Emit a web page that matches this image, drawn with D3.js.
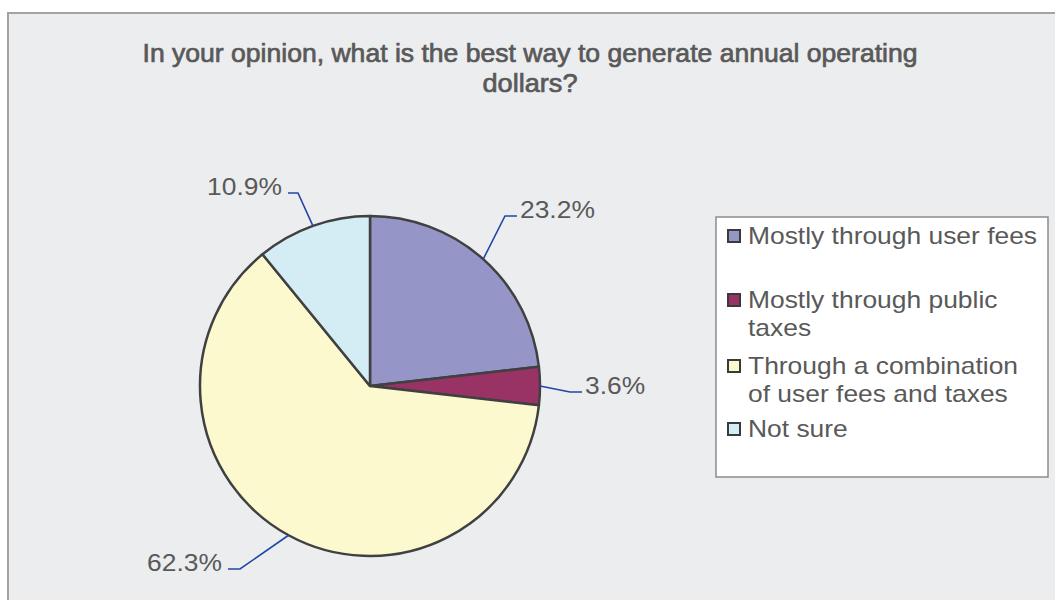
<!DOCTYPE html>
<html><head><meta charset="utf-8">
<script src="https://cdn.jsdelivr.net/npm/d3@7"></script>
<style>html,body{margin:0;padding:0;background:#fff;}svg{display:block;}</style>
</head><body><svg id="c" width="1055" height="600"></svg>
<script>
// ---- data ----
const categories = ["Mostly through user fees", "Mostly through public taxes", "Through a combination of user fees and taxes", "Not sure"];
const values = [23.2, 3.6, 62.3, 10.9];
const valueLabels = ["23.2%", "3.6%", "62.3%", "10.9%"];
const legendLines = [["Mostly through user fees"], ["Mostly through public", "taxes"], ["Through a combination", "of user fees and taxes"], ["Not sure"]];
const colors = ["#9595C8", "#993366", "#FCF9CF", "#D4EDF4"];
const titleLines = ["In your opinion, what is the best way to generate annual operating", "dollars?"];

// ---- layout ----
const W = 1055, H = 600;
const cx = 370, cy = 386, R = 170;
const stretch = 1.1; // horizontal text stretch seen in reference
const leaderLayout = [
  {ex: 505, ey: 216, hx: 517, anchor: "start"},
  {ex: 570, ey: 392, hx: 582, anchor: "start"},
  {ex: 240, ey: 569, hx: 228, anchor: "end"},
  {ex: 298, ey: 193, hx: 288, anchor: "end"}
];
const legendBox = {x: 716, y: 217, w: 332, h: 260};
const legendSwatchY = [230, 294, 360, 423];
const fontFam = "'Liberation Sans', Arial, sans-serif";

const svg = d3.select("#c");

function stretchText(sel) {
  sel.each(function () {
    const w = this.getComputedTextLength();
    d3.select(this).attr("textLength", w * stretch).attr("lengthAdjust", "spacingAndGlyphs");
  });
}

// chart area
svg.append("rect").attr("x", 8).attr("y", 13).attr("width", W + 10).attr("height", H + 10)
  .attr("fill", "#ECEDEF").attr("stroke", "#A3A3A3").attr("stroke-width", 2);

// title
const title = svg.append("text").attr("font-family", fontFam).attr("font-size", 26)
  .attr("fill", "#595959").attr("stroke", "#595959").attr("stroke-width", 0.7).attr("text-anchor", "middle");
title.append("tspan").attr("x", 530).attr("y", 62).attr("textLength", 775).attr("lengthAdjust", "spacingAndGlyphs").text(titleLines[0]);
title.append("tspan").attr("x", 530).attr("y", 92).attr("textLength", 95).attr("lengthAdjust", "spacingAndGlyphs").text(titleLines[1]);

// pie
const pie = d3.pie().sort(null).value(d => d)(values);
const arc = d3.arc().innerRadius(0).outerRadius(R);
const g = svg.append("g").attr("transform", `translate(${cx},${cy})`);
g.selectAll("path").data(pie).join("path")
  .attr("d", arc).attr("fill", (d, i) => colors[i])
  .attr("stroke", "#404040").attr("stroke-width", 2.5).attr("stroke-linejoin", "round");

// leaders and labels
pie.forEach((d, i) => {
  const a = (d.startAngle + d.endAngle) / 2;
  const px = cx + R * Math.sin(a), py = cy - R * Math.cos(a);
  const L = leaderLayout[i];
  svg.append("polyline").attr("points", `${px},${py} ${L.ex},${L.ey} ${L.hx},${L.ey}`)
    .attr("fill", "none").attr("stroke", "#2147A6").attr("stroke-width", 1.6);
  const tx = L.anchor === "start" ? L.hx + 3 : L.hx - 6;
  svg.append("text").attr("x", tx).attr("y", L.ey + 2).attr("text-anchor", L.anchor)
    .attr("font-family", fontFam).attr("font-size", 24).attr("fill", "#595959").text(valueLabels[i])
    .call(stretchText);
});

// legend
svg.append("rect").attr("x", legendBox.x).attr("y", legendBox.y).attr("width", legendBox.w).attr("height", legendBox.h)
  .attr("fill", "#fff").attr("stroke", "#8C8C8C").attr("stroke-width", 1.5);
categories.forEach((c, i) => {
  const sy = legendSwatchY[i];
  svg.append("rect").attr("x", 728).attr("y", sy).attr("width", 12).attr("height", 12)
    .attr("fill", colors[i]).attr("stroke", "#3a3a3a").attr("stroke-width", 2);
  const t = svg.append("text").attr("font-family", fontFam).attr("font-size", 24).attr("fill", "#595959");
  legendLines[i].forEach((ln, j) => {
    t.append("tspan").attr("x", 748).attr("y", sy + 14 + j * 28).text(ln).call(stretchText);
  });
});
</script></body></html>
